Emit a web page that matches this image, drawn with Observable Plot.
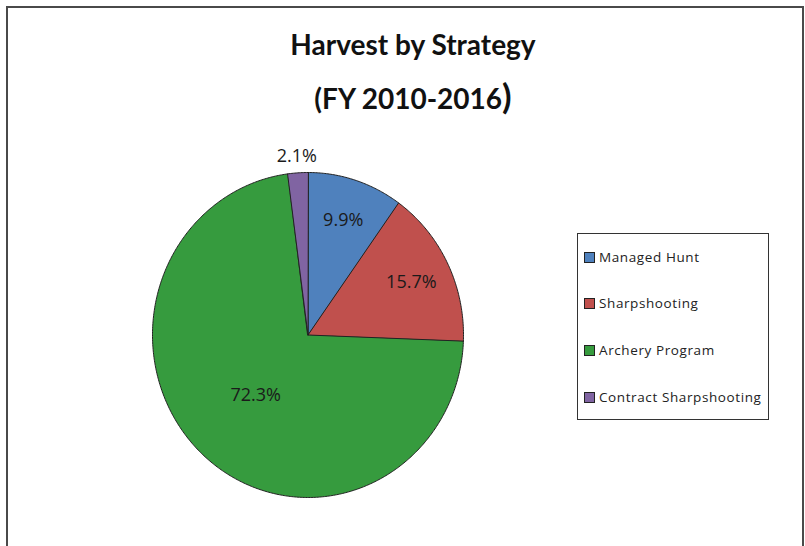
<!DOCTYPE html>
<html>
<head>
<meta charset="utf-8">
<script src="https://cdn.jsdelivr.net/npm/d3@7"></script>
<script src="https://cdn.jsdelivr.net/npm/@observablehq/plot@0.6"></script>
<style>
  html, body { margin: 0; padding: 0; background: #fff; overflow: hidden; }
  #wrap { position: relative; width: 805px; height: 546px; overflow: hidden; }
  #frame { position: absolute; left: 6px; top: 6px; width: 794px; height: 620px; border: 2px solid #4a4a4a; box-sizing: content-box; pointer-events: none; }
  .title { position: absolute; left: 0; width: 826px; text-align: center; font-family: Lato, "Open Sans", sans-serif; font-weight: bold; color: #111; white-space: nowrap; }
  #legend { position: absolute; left: 577px; top: 233px; width: 192px; height: 187px; border: 1.5px solid #333; box-sizing: border-box; font-family: "Open Sans", sans-serif; font-size: 13.5px; letter-spacing: 0.6px; color: #222; }
  .item { position: absolute; left: 6px; display: flex; align-items: center; white-space: nowrap; }
  .sw { width: 9px; height: 9px; border: 1px solid #222; margin-right: 4px; }
  svg { position: absolute; left: 0; top: 0; }
</style>
</head>
<body>
<div id="wrap"></div>
<script>
const categories = ["Managed Hunt", "Sharpshooting", "Archery Program", "Contract Sharpshooting"];
const shares = [9.9, 15.7, 72.3, 2.1];
const labels = ["9.9%", "15.7%", "72.3%", "2.1%"];
const colors = ["#4f81bd", "#c0504d", "#369b3e", "#8064a2"];

// Build wedge outlines in unit-circle data space from the shares
const total = d3.sum(shares);
let acc = 0;
const wedgePts = [];
const labelPts = [];
categories.forEach((name, i) => {
  const a0 = acc / total * 2 * Math.PI;
  acc += shares[i];
  const a1 = acc / total * 2 * Math.PI;
  wedgePts.push({name, x: 0, y: 0});
  const n = Math.max(4, Math.ceil((a1 - a0) / 0.01));
  for (let k = 0; k <= n; k++) {
    const a = a0 + (a1 - a0) * k / n;
    wedgePts.push({name, x: Math.sin(a), y: Math.cos(a)});
  }
  const am = (a0 + a1) / 2;
  const r = shares[i] < 5 ? 1.1 : shares[i] > 50 ? 0.5 : 0.74;
  labelPts.push({name, text: labels[i], x: r * Math.sin(am), y: r * Math.cos(am)});
});

const plot = Plot.plot({
  width: 805,
  height: 546,
  marginLeft: 152,
  marginRight: 342,
  marginTop: 172,
  marginBottom: 49,
  x: {domain: [-1, 1], axis: null},
  y: {domain: [-1, 1], axis: null},
  color: {domain: categories, range: colors},
  style: {background: "transparent", overflow: "visible"},
  marks: [
    Plot.line(wedgePts, {x: "x", y: "y", z: "name", fill: "name", stroke: "#222", strokeWidth: 1, curve: "linear-closed"}),
    Plot.text(labelPts, {x: "x", y: "y", text: "text", fontSize: 18, fill: "#1a1a1a", fontFamily: "Open Sans, sans-serif", letterSpacing: "0.5px"})
  ]
});

const wrap = document.getElementById("wrap");
wrap.appendChild(plot);

const frame = document.createElement("div");
frame.id = "frame";
wrap.appendChild(frame);

const t1 = document.createElement("div");
t1.className = "title";
t1.style.top = "27px";
t1.style.fontSize = "28px";
t1.textContent = "Harvest by Strategy";
wrap.appendChild(t1);

const t2 = document.createElement("div");
t2.className = "title";
t2.style.top = "74px";
t2.style.fontSize = "28px";
t2.innerHTML = '(FY 2010-2016<span style="font-size:35px">)</span>';
wrap.appendChild(t2);

const color = plot.scale("color");
const legend = document.createElement("div");
legend.id = "legend";
const rowTops = [14, 60, 107, 154];
categories.forEach((name, i) => {
  const it = document.createElement("div");
  it.className = "item";
  it.style.top = rowTops[i] + "px";
  const sw = document.createElement("span");
  sw.className = "sw";
  sw.style.background = color.apply(name);
  const tx = document.createElement("span");
  tx.textContent = name;
  it.appendChild(sw);
  it.appendChild(tx);
  legend.appendChild(it);
});
wrap.appendChild(legend);
</script>
</body>
</html>
